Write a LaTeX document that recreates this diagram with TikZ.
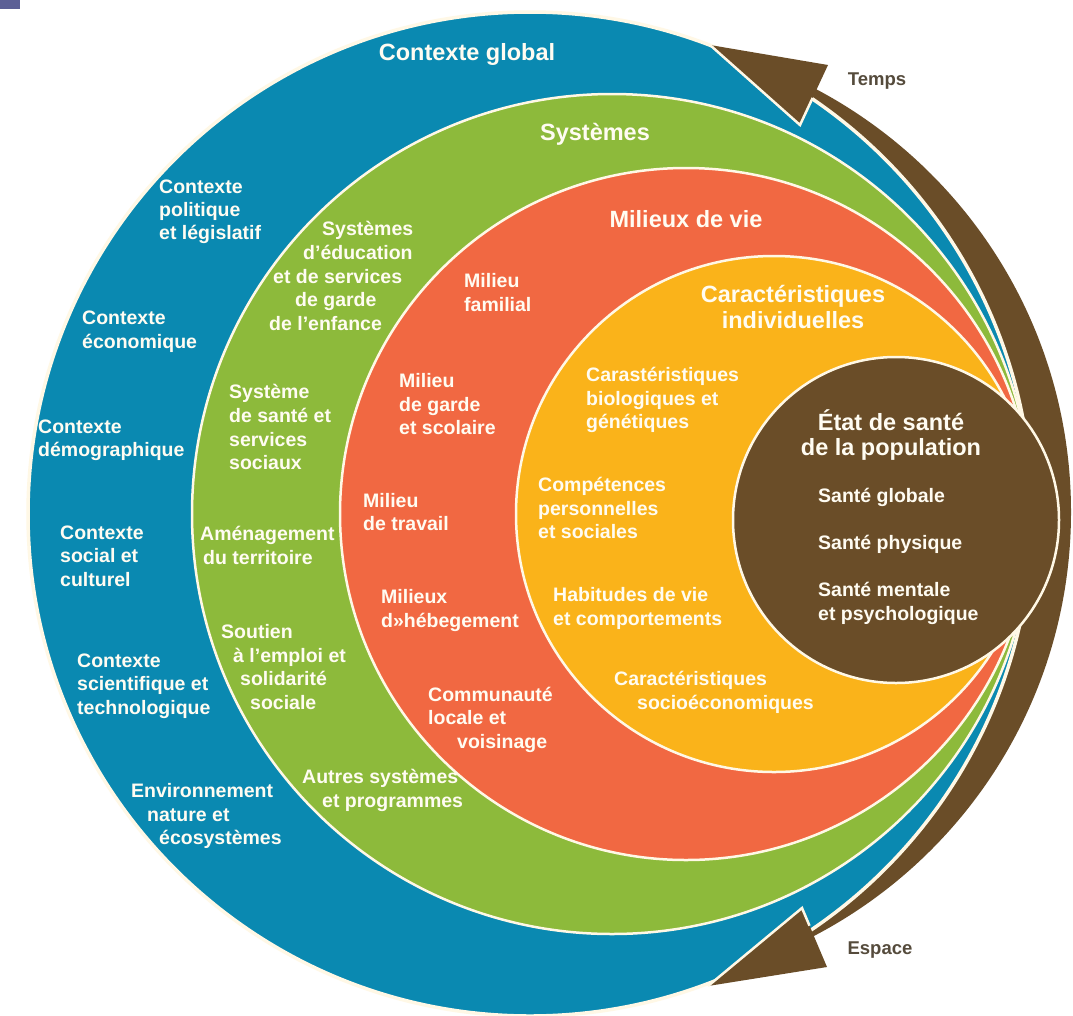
\documentclass[tikz,border=0pt]{standalone}
\usepackage{fontspec}
\setmainfont{Liberation Sans}
\definecolor{cBlue}{RGB}{10,137,177}
\definecolor{cGreen}{RGB}{141,186,59}
\definecolor{cRed}{RGB}{241,104,66}
\definecolor{cYellow}{RGB}{250,179,26}
\definecolor{cBrown}{RGB}{106,77,40}
\definecolor{cCream}{RGB}{255,248,230}
\definecolor{cText}{RGB}{255,252,242}
\definecolor{cDark}{RGB}{85,75,60}
\definecolor{cCorner}{RGB}{92,96,150}
\tikzset{
  lbl/.style={font=\fontsize{19.5}{23}\selectfont\bfseries, text=cText, inner sep=0pt, anchor=mid west},
  ttl/.style={font=\fontsize{23.5}{27}\selectfont\bfseries, text=cText, inner sep=0pt, anchor=mid},
  axis/.style={font=\fontsize{18.5}{22}\selectfont\bfseries, text=cDark, inner sep=0pt, anchor=mid},
  ring/.style={draw=cCream, line width=2.5pt},
  edge/.style={draw=cCream, line width=2.5pt, line join=miter},
}
\newcommand{\Lw}[4]{\node[lbl] (#1) at (#2,#3) {#4};}
\newcommand{\Lt}[4]{\node[ttl] (#1) at (#2,#3) {#4};}
\begin{document}
\begin{tikzpicture}[x=1pt,y=-1pt]
\useasboundingbox (0,0) rectangle (1073,1015);
\fill[white] (0,0) rectangle (1073,1015);
\fill[cCorner] (0,0) rectangle (20,9);

\coordinate (cB) at (530,514);
\coordinate (cG) at (612,514);
\coordinate (cR) at (686,514);
\coordinate (cY) at (774,514);
\coordinate (cP) at (896,520);
\coordinate (cS) at (593,512);

% time / space arrow shaft
\begin{scope}
  \clip (825,64) -- (797,124) -- (799,909) -- (824,968) -- (1100,1100) -- (1100,-80) -- cycle;
  \fill[cBrown] (cS) circle[radius=478pt];
\end{scope}

% global context
\fill[cBlue] (cB) circle[radius=502pt];
\draw[cCream, line width=3.5pt] (cB) circle[radius=502pt];

% arrow heads
\coordinate (tA) at (710,45);
\coordinate (tB) at (828,65);
\coordinate (tC) at (800,125);
\coordinate (tD) at (812.6,98);
\fill[cBrown] (tA) -- (tB) -- (tC) -- cycle;
\draw[edge] (tA) -- (tC) -- (tD);
\coordinate (bA) at (708,986);
\coordinate (bB) at (827,967);
\coordinate (bC) at (802,908);
\coordinate (bD) at (809.5,925.7);
\fill[cBrown] (bA) -- (bB) -- (bC) -- cycle;
\draw[edge] (bA) -- (bC) -- (bD);

% nested circles
\filldraw[ring, fill=cGreen] (cG) circle[radius=420pt];
\filldraw[ring, fill=cRed] (cR) circle[radius=346pt];
\filldraw[ring, fill=cYellow] (cY) circle[radius=258pt];
\filldraw[ring, fill=cBrown] (cP) circle[radius=163pt];

% ---- Contexte global
\Lt{tGlob}{467}{58}{Contexte global}
\Lw{b1a}{159}{191}{Contexte}
\Lw{b1b}{159}{214}{politique}
\Lw{b1c}{159}{237}{et législatif}
\Lw{b2a}{82}{322}{Contexte}
\Lw{b2b}{82}{346}{économique}
\Lw{b3a}{38}{431}{Contexte}
\Lw{b3b}{38}{454}{démographique}
\Lw{b4a}{60}{537}{Contexte}
\Lw{b4b}{60}{560}{social et}
\Lw{b4c}{60}{584}{culturel}
\Lw{b5a}{77}{665}{Contexte}
\Lw{b5b}{77}{688}{scientifique et}
\Lw{b5c}{77}{712}{technologique}
\Lw{b6a}{131}{795}{Environnement}
\Lw{b6b}{147}{819}{nature et}
\Lw{b6c}{159}{842}{écosystèmes}

% ---- Systemes
\Lt{tSys}{595}{138}{Systèmes}
\Lw{g1a}{322}{233}{Systèmes}
\Lw{g1b}{303}{257}{d’éducation}
\Lw{g1c}{273}{281}{et de services}
\Lw{g1d}{295}{304}{de garde}
\Lw{g1e}{269}{328}{de l’enfance}
\Lw{g2a}{229}{396}{Système}
\Lw{g2b}{229}{420}{de santé et}
\Lw{g2c}{229}{444}{services}
\Lw{g2d}{229}{467}{sociaux}
\Lw{g3a}{200}{538}{Aménagement}
\Lw{g3b}{203}{562}{du territoire}
\Lw{g4a}{221}{636}{Soutien}
\Lw{g4b}{233}{660}{à l’emploi et}
\Lw{g4c}{240}{683}{solidarité}
\Lw{g4d}{250}{707}{sociale}
\Lw{g5a}{302}{781}{Autres systèmes}
\Lw{g5b}{322}{805}{et programmes}

% ---- Milieux de vie
\Lt{tMil}{686}{225}{Milieux de vie}
\Lw{r1a}{464}{285}{Milieu}
\Lw{r1b}{464}{309}{familial}
\Lw{r2a}{399}{385}{Milieu}
\Lw{r2b}{399}{409}{de garde}
\Lw{r2c}{399}{432}{et scolaire}
\Lw{r3a}{363}{505}{Milieu}
\Lw{r3b}{363}{528}{de travail}
\Lw{r4a}{381}{601}{Milieux}
\Lw{r4b}{381}{625}{d»hébegement}
\Lw{r5a}{428}{699}{Communauté}
\Lw{r5b}{428}{722}{locale et}
\Lw{r5c}{457}{746}{voisinage}

% ---- Caracteristiques individuelles
\Lt{tCar}{793}{300}{Caractéristiques}
\Lt{tInd}{793}{326}{individuelles}
\Lw{y1a}{586}{379}{Carastéristiques}
\Lw{y1b}{586}{403}{biologiques et}
\Lw{y1c}{586}{426}{génétiques}
\Lw{y2a}{538}{489}{Compétences}
\Lw{y2b}{538}{513}{personnelles}
\Lw{y2c}{538}{536}{et sociales}
\Lw{y3a}{553}{599}{Habitudes de vie}
\Lw{y3b}{553}{623}{et comportements}
\Lw{y4a}{614}{683}{Caractéristiques}
\Lw{y4b}{637}{707}{socioéconomiques}

% ---- Etat de sante
\Lt{tEta}{891}{428}{État de santé}
\Lt{tPop}{891}{453}{de la population}
\Lw{p1}{818}{500}{Santé globale}
\Lw{p2}{818}{547}{Santé physique}
\Lw{p3a}{818}{594}{Santé mentale}
\Lw{p3b}{818}{618}{et psychologique}

% ---- axes
\node[axis] (temps) at (877,83) {Temps};
\node[axis] (espace) at (880,952) {Espace};
\end{tikzpicture}
\end{document}
